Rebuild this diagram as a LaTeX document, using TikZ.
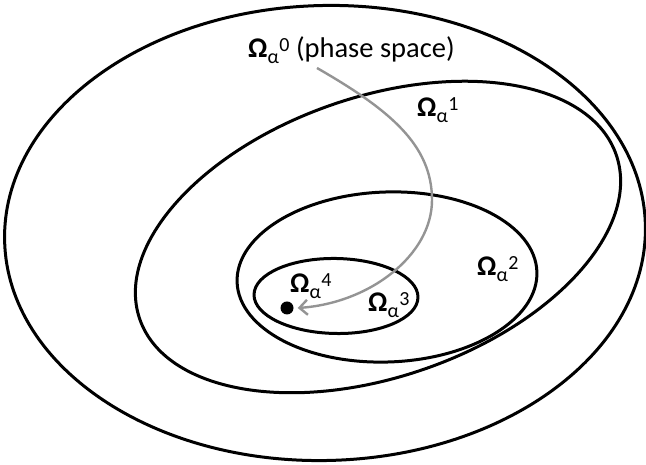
\documentclass[tikz,border=0pt]{standalone}
\usepackage{fontspec}
\setmainfont{Carlito}
\usetikzlibrary{shapes.geometric,arrows.meta}
\newcommand{\omlab}[1]{{\bfseries Ω}\raisebox{-0.18em}{\fontsize{20}{20}\selectfont α}\kern0.5pt\raisebox{0.24em}{\fontsize{20}{20}\selectfont #1}}
\tikzset{
  region/.style={draw=black, line width=3pt, ellipse, inner sep=0pt, outer sep=0pt},
  lab/.style={anchor=base west, inner sep=0pt, font=\fontsize{28.5}{32}\selectfont},
  flow/.style={draw=black!42, line width=2.4pt, -{Straight Barb[length=8pt,width=15pt,line width=2.4pt]}},
}
\begin{document}
\begin{tikzpicture}[x=1pt,y=1pt]
\useasboundingbox (0,0) rectangle (646,465);
\fill[white] (0,0) rectangle (646,465);
% regions
\node[region, minimum width=641pt, minimum height=455pt, rotate=1.5] (e0) at (325,232) {};
\node[region, minimum width=504pt, minimum height=280pt, rotate=19] (e1) at (378,228) {};
\node[region, minimum width=300pt, minimum height=170pt, rotate=2] (e2) at (387,188) {};
\node[region, minimum width=164pt, minimum height=75pt, rotate=-1] (e3) at (336,169) {};
% attractor point
\node[circle, fill=black, minimum size=13pt, inner sep=0pt] (pt) at (287,157) {};
% labels
\node[lab] (l0) at (248,407) {\omlab{0} (phase space)};
\node[lab] (l1) at (417,348) {\omlab{1}};
\node[lab] (l2) at (477,189) {\omlab{2}};
\node[lab] (l3) at (368,153) {\omlab{3}};
\node[lab] (l4) at (290,172) {\omlab{4}};
% trajectory
\coordinate (s0) at (317,397);
\coordinate (m0) at (432,265);
\draw[flow] (s0) .. controls (390,355) and (432,320) .. (m0)
                 .. controls (432,210) and (370,162) .. ([xshift=4pt]pt.east);
\end{tikzpicture}
\end{document}
